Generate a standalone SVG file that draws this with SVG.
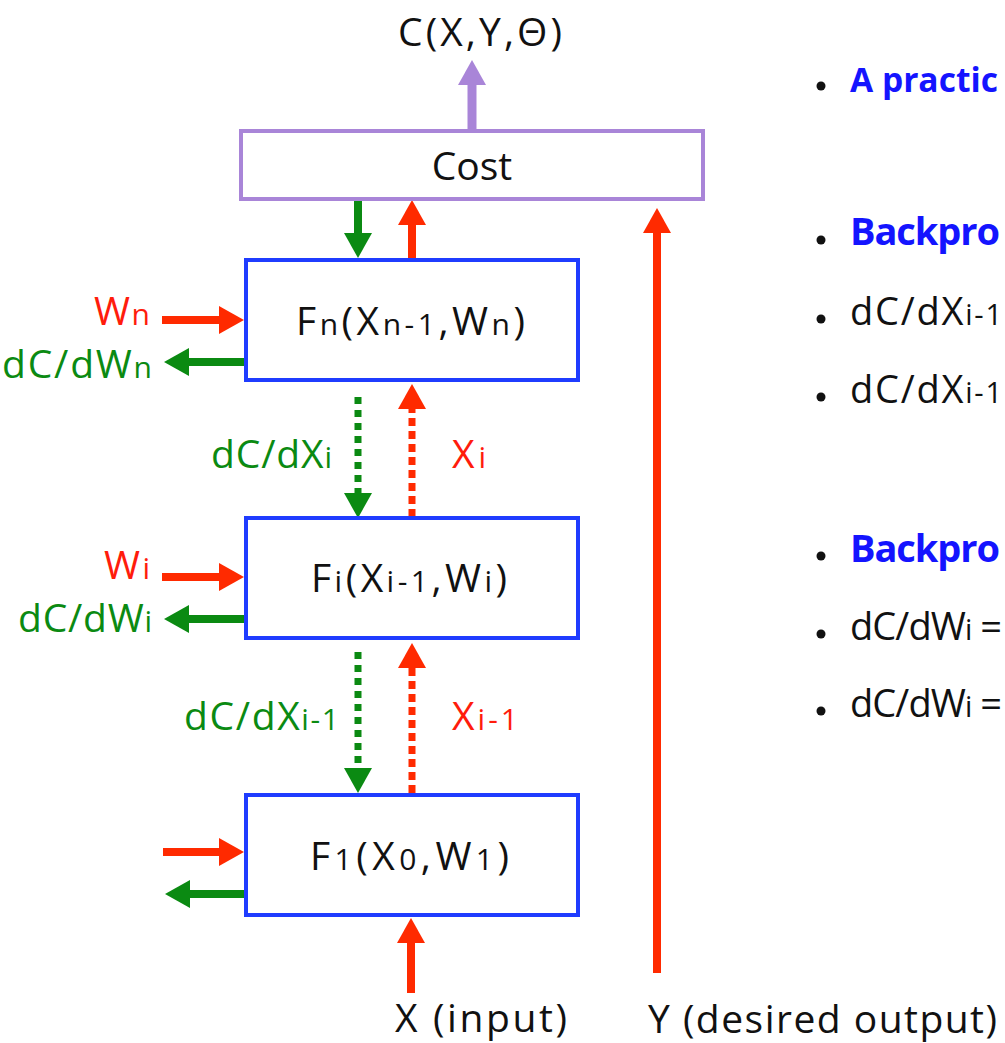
<svg xmlns="http://www.w3.org/2000/svg" width="1005" height="1043" viewBox="0 0 1005 1043">
<style>
text{font-family:"Open Sans","DejaVu Sans",sans-serif;}
.k{fill:#111;font-size:39px;}
.red{fill:#ff1c0c;font-size:39px;}
.grn{fill:#0b8a12;font-size:39px;}
.s{font-size:30px;}
.box{fill:#fff;stroke:#1f3cff;stroke-width:4;}
.cost{fill:#fff;stroke:#a985d8;stroke-width:4;}
.ra{stroke:#ff2a00;stroke-width:8;fill:none;}
.ga{stroke:#0b8a12;stroke-width:8;fill:none;}
.pa{stroke:#a985d8;stroke-width:9;fill:none;}
.rd{stroke:#ff2a00;stroke-width:7;stroke-dasharray:8 5;fill:none;}
.gd{stroke:#0b8a12;stroke-width:7;stroke-dasharray:7 6;fill:none;}
.bt{font-size:38px;}
.bb{fill:#1414ff;font-weight:bold;}
</style>
<defs>
<marker id="mr" markerUnits="userSpaceOnUse" markerWidth="26" markerHeight="28" refX="1" refY="14" orient="auto"><path d="M0,0 L25,14 L0,28 z" fill="#ff2a00"/></marker>
<marker id="mg" markerUnits="userSpaceOnUse" markerWidth="26" markerHeight="28" refX="1" refY="14" orient="auto"><path d="M0,0 L25,14 L0,28 z" fill="#0b8a12"/></marker>
<marker id="mp" markerUnits="userSpaceOnUse" markerWidth="26" markerHeight="28" refX="1" refY="14" orient="auto"><path d="M0,0 L25,14 L0,28 z" fill="#a985d8"/></marker>
</defs>

<g id="connectors">
<line class="pa" x1="472" y1="129" x2="472" y2="84" marker-end="url(#mp)"/>
<line class="ga" x1="358" y1="201" x2="358" y2="234" marker-end="url(#mg)"/>
<line class="ra" x1="412" y1="258" x2="412" y2="224" marker-end="url(#mr)"/>
<line class="ra" x1="657" y1="973" x2="657" y2="232" marker-end="url(#mr)"/>
<line class="ra" x1="162" y1="320" x2="220" y2="320" marker-end="url(#mr)"/>
<line class="ga" x1="246" y1="362" x2="188" y2="362" marker-end="url(#mg)"/>
<line class="gd" x1="358" y1="397" x2="358" y2="494" marker-end="url(#mg)"/>
<line class="rd" x1="412" y1="517" x2="412" y2="408" marker-end="url(#mr)"/>
<line class="ra" x1="162" y1="577" x2="220" y2="577" marker-end="url(#mr)"/>
<line class="ga" x1="246" y1="619" x2="188" y2="619" marker-end="url(#mg)"/>
<line class="gd" x1="358" y1="652" x2="358" y2="769" marker-end="url(#mg)"/>
<line class="rd" x1="412" y1="793" x2="412" y2="667" marker-end="url(#mr)"/>
<line class="ra" x1="163" y1="852" x2="220" y2="852" marker-end="url(#mr)"/>
<line class="ga" x1="246" y1="894" x2="189" y2="894" marker-end="url(#mg)"/>
<line class="ra" x1="411" y1="993" x2="411" y2="942" marker-end="url(#mr)"/>
</g>

<g id="cost-node">
<rect class="cost" x="241" y="131" width="462" height="68"/>
<text class="k" x="472" y="180" text-anchor="middle" font-size="41">Cost</text>
</g>
<g id="cost-output"><text class="k" x="398" y="46" textLength="164" lengthAdjust="spacing">C(X,Y,Θ)</text></g>

<g id="node-fn">
<rect class="box" x="246" y="260" width="332" height="120"/>
<text class="k" x="296" y="335" textLength="229" lengthAdjust="spacing">F<tspan class="s">n</tspan>(X<tspan class="s">n-1</tspan>,W<tspan class="s">n</tspan>)</text>
</g>
<g id="node-fi">
<rect class="box" x="246" y="518" width="332" height="120"/>
<text class="k" x="311" y="592" textLength="196" lengthAdjust="spacing">F<tspan class="s">i</tspan>(X<tspan class="s">i-1</tspan>,W<tspan class="s">i</tspan>)</text>
</g>
<g id="node-f1">
<rect class="box" x="246" y="795" width="332" height="120"/>
<text class="k" x="310" y="870" textLength="199" lengthAdjust="spacing">F<tspan class="s">1</tspan>(X<tspan class="s">0</tspan>,W<tspan class="s">1</tspan>)</text>
</g>

<g id="labels">
<text class="red" x="94" y="325" textLength="56" lengthAdjust="spacing">W<tspan class="s">n</tspan></text>
<text class="grn" x="2" y="378" textLength="150" lengthAdjust="spacing">dC/dW<tspan class="s">n</tspan></text>
<text class="grn" x="211" y="468" textLength="121" lengthAdjust="spacing">dC/dX<tspan class="s">i</tspan></text>
<text class="red" x="452" y="468" textLength="34" lengthAdjust="spacing">X<tspan class="s">i</tspan></text>
<text class="red" x="104" y="579" textLength="46" lengthAdjust="spacing">W<tspan class="s">i</tspan></text>
<text class="grn" x="18" y="632" textLength="134" lengthAdjust="spacing">dC/dW<tspan class="s">i</tspan></text>
<text class="grn" x="184" y="730" textLength="155" lengthAdjust="spacing">dC/dX<tspan class="s">i-1</tspan></text>
<text class="red" x="452" y="730" textLength="66" lengthAdjust="spacing">X<tspan class="s">i-1</tspan></text>
<text class="k" x="395" y="1032" textLength="172" lengthAdjust="spacing">X (input)</text>
<text class="k" x="648" y="1033" textLength="349" lengthAdjust="spacing">Y (desired output)</text>
</g>

<g id="bullets">
<circle cx="821" cy="86" r="4.5" fill="#111"/>
<text class="bb" x="850" y="92" font-size="34" textLength="148" lengthAdjust="spacingAndGlyphs">A practic</text>
<circle cx="821" cy="240" r="4.5" fill="#111"/>
<text class="bt bb" x="850" y="245" textLength="150" lengthAdjust="spacing">Backpro</text>
<circle cx="821" cy="319" r="4.5" fill="#111"/>
<text class="bt" x="850" y="325" fill="#111" textLength="152" lengthAdjust="spacing">dC/dX<tspan font-size="29">i-1</tspan></text>
<circle cx="821" cy="397" r="4.5" fill="#111"/>
<text class="bt" x="850" y="403" fill="#111" textLength="152" lengthAdjust="spacing">dC/dX<tspan font-size="29">i-1</tspan></text>
<circle cx="821" cy="556" r="4.5" fill="#111"/>
<text class="bt bb" x="850" y="562" textLength="150" lengthAdjust="spacing">Backpro</text>
<circle cx="821" cy="634" r="4.5" fill="#111"/>
<text class="bt" x="850" y="640" fill="#111" textLength="152" lengthAdjust="spacing">dC/dW<tspan font-size="29">i</tspan> =</text>
<circle cx="821" cy="711" r="4.5" fill="#111"/>
<text class="bt" x="850" y="717" fill="#111" textLength="152" lengthAdjust="spacing">dC/dW<tspan font-size="29">i</tspan> =</text>
</g>
</svg>
